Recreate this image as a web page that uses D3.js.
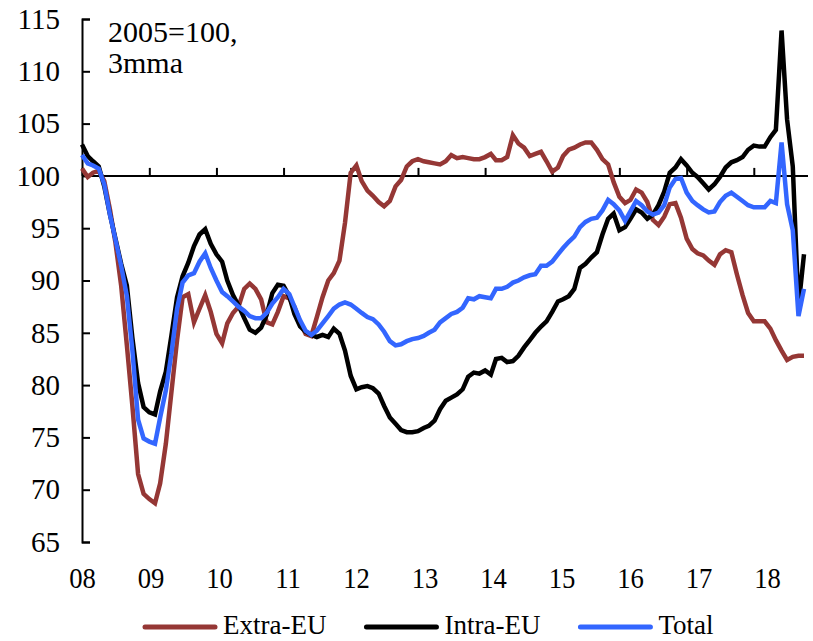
<!DOCTYPE html>
<html>
<head>
<meta charset="utf-8">
<script src="https://cdn.jsdelivr.net/npm/d3@7"></script>
<style>
  body { margin: 0; background: #fff; }
  text { font-family: "Liberation Serif", "Times New Roman", "DejaVu Serif", serif; fill: #000; }
</style>
</head>
<body>
<div id="chart"></div>
<script>
// 1: DATA (monthly, Jan 2008 - Oct 2018, 2005=100, 3mma)
const startMonth = new Date(2008, 0, 1);
const endMonth = new Date(2018, 9, 1);
const months = d3.timeMonth.range(startMonth, d3.timeMonth.offset(endMonth, 1));

const extraEU = [
  100.7, 99.9, 100.3, 100.5, 99.5, 96.8, 93.6, 89.5, 83.8, 78.0, 71.5, 69.6,
  69.1, 68.7, 70.6, 74.4, 79.3, 84.3, 88.4, 88.7, 86.0, 87.3, 88.6, 87.0,
  84.9, 84.0, 85.9, 86.9, 87.5, 89.2, 89.7, 89.2, 88.2, 86.0, 85.8, 87.0,
  88.5, 88.3, 87.5, 86.0, 84.9, 84.7, 86.5, 88.4, 90.0, 90.7, 91.9, 95.5,
  100.3, 101.0, 99.5, 98.6, 98.1, 97.5, 97.1, 97.6, 99.0, 99.6, 100.9, 101.4,
  101.6, 101.4, 101.3, 101.2, 101.1, 101.4, 102.0, 101.7, 101.8, 101.7, 101.6, 101.6,
  101.8, 102.1, 101.5, 101.5, 101.8, 103.9, 103.1, 102.7, 101.9, 102.1, 102.3, 101.4,
  100.4, 100.8, 101.9, 102.5, 102.7, 103.0, 103.2, 103.2, 102.5, 101.6, 101.1, 99.4,
  98.0, 97.4, 97.7, 98.7, 98.4, 97.5, 95.8, 95.3, 96.1, 97.3, 97.4, 96.0,
  94.0, 93.0, 92.6, 92.4, 91.9, 91.5, 92.5, 92.9, 92.7, 90.6, 88.6, 86.9,
  86.1, 86.1, 86.1, 85.4, 84.3, 83.3, 82.4, 82.7, 82.8, 82.8
];

const intraEU = [
  103.0, 101.9, 101.4, 100.9, 99.0, 96.3, 94.0, 91.6, 89.5, 84.5, 80.2, 77.9,
  77.4, 77.2, 79.4, 81.3, 84.7, 88.4, 90.4, 91.7, 93.3, 94.4, 94.9, 93.5,
  92.5, 91.8, 90.0, 88.6, 87.6, 86.4, 85.3, 85.0, 85.5, 86.7, 88.8, 89.6,
  89.5, 88.5, 86.8, 85.6, 85.1, 84.8, 84.6, 84.8, 84.6, 85.4, 84.9, 83.3,
  80.9, 79.6, 79.8, 79.9, 79.7, 79.2, 78.0, 76.9, 76.3, 75.7, 75.5, 75.5,
  75.6, 75.9, 76.1, 76.6, 77.7, 78.5, 78.8, 79.1, 79.6, 80.8, 81.2, 81.1,
  81.4, 81.0, 82.5, 82.6, 82.2, 82.3, 82.8, 83.6, 84.3, 85.0, 85.6, 86.1,
  87.0, 88.0, 88.2, 88.5, 89.2, 91.2, 91.6, 92.2, 92.7, 94.4, 95.9, 96.4,
  94.8, 95.1, 95.9, 96.8, 96.5, 95.9, 96.3, 97.2, 98.5, 100.3, 100.8, 101.6,
  101.0, 100.3, 99.9, 99.3, 98.7, 99.2, 99.9, 100.8, 101.3, 101.5, 101.8, 102.5,
  102.9, 102.8, 102.8, 103.7, 104.4, 113.9, 105.4, 100.9, 87.5, 92.5
];

const total = [
  102.0, 101.2, 101.0, 100.7, 99.2, 96.3, 93.9, 91.4, 88.5, 83.3, 76.7, 74.9,
  74.6, 74.4, 76.9, 79.5, 83.0, 87.3, 89.8, 90.5, 90.7, 91.8, 92.6, 91.2,
  90.0, 88.9, 88.5, 88.0, 87.5, 87.1, 86.6, 86.4, 86.4, 86.9, 87.8, 88.4,
  89.2, 88.7, 87.5, 86.2, 85.2, 84.8, 85.2, 85.9, 86.6, 87.3, 87.7, 87.9,
  87.7, 87.3, 86.9, 86.5, 86.3, 85.8, 85.1, 84.2, 83.8, 83.9, 84.2, 84.4,
  84.5, 84.7, 85.0, 85.3, 86.0, 86.4, 86.8, 87.0, 87.4, 88.3, 88.2, 88.5,
  88.4, 88.3, 89.2, 89.2, 89.4, 89.8, 90.0, 90.3, 90.5, 90.6, 91.4, 91.4,
  91.8, 92.5, 93.1, 93.7, 94.2, 95.1, 95.6, 95.9, 96.0, 96.7, 97.7, 97.3,
  96.7, 95.7, 96.6, 97.6, 97.2, 96.6, 96.3, 96.5, 97.2, 98.9, 99.7, 99.8,
  98.4, 97.6, 97.2, 96.8, 96.5, 96.6, 97.5, 98.1, 98.4, 98.0, 97.6, 97.2,
  97.0, 97.0, 97.0, 97.6, 97.4, 103.2, 97.3, 94.8, 86.6, 89.2
];

const seriesNames = ["Extra-EU", "Intra-EU", "Total"];
const seriesColors = ["#953735", "#000000", "#3366ff"];
const seriesValues = [extraEU, intraEU, total];

const yTicks = [65, 70, 75, 80, 85, 90, 95, 100, 105, 110, 115];
const yearTicks = d3.range(2008, 2019).map(y => new Date(y, 0, 1));
const yearLabels = ["08", "09", "10", "11", "12", "13", "14", "15", "16", "17", "18"];
const noteLines = ["2005=100,", "3mma"];

// 2: SVG
const W = 813, H = 641;
const plotLeft = 82, plotRight = 808, plotTop = 19, plotBottom = 542;

const svg = d3.select("#chart")
  .append("svg")
  .attr("width", W)
  .attr("height", H)
  .attr("font-family", "Liberation Serif, Times New Roman, serif");

// 3: SCALES
const x = d3.scaleTime()
  .domain([startMonth, endMonth])
  .range([plotLeft, 804]);

const y = d3.scaleLinear()
  .domain([65, 115])
  .range([plotBottom, plotTop]);

// labels sit a little wider than the ticks in the original
const xLabel = d3.scalePoint()
  .domain(yearLabels)
  .range([plotLeft, 767]);

// 4: AXES
// y axis, ticks pointing into the plot, labels on the left
svg.append("g")
  .attr("transform", `translate(${plotLeft},0)`)
  .call(d3.axisLeft(y).tickValues(yTicks).tickSize(-8).tickSizeOuter(-8).tickPadding(22))
  .call(g => g.attr("font-family", null))
  .call(g => g.selectAll("path, line").attr("stroke", "#000").attr("stroke-width", 2))
  .call(g => g.selectAll("text").style("font-size", "29px"));

// year axis runs along the 100 line
svg.append("line")
  .attr("x1", plotLeft)
  .attr("x2", plotRight)
  .attr("y1", y(100))
  .attr("y2", y(100))
  .attr("stroke", "#000")
  .attr("stroke-width", 2);

svg.append("g")
  .attr("transform", `translate(0,${y(100)})`)
  .call(d3.axisTop(x).tickValues(yearTicks).tickSize(8).tickFormat(""))
  .call(g => g.select(".domain").remove())
  .call(g => g.selectAll("line").attr("stroke", "#000").attr("stroke-width", 2));

// year labels at the bottom
svg.append("g")
  .attr("transform", "translate(0,588)")
  .call(d3.axisBottom(xLabel).tickSize(0))
  .call(g => g.attr("font-family", null))
  .call(g => g.select(".domain").remove())
  .call(g => g.selectAll("text")
    .attr("y", 0)
    .attr("dy", 0)
    .attr("transform", "scale(0.92,1)")
    .style("font-size", "29px"));

// 5: LINES
const line = d3.line()
  .x((d, i) => x(months[i]))
  .y(d => y(d));

svg.append("g")
  .selectAll("path")
  .data(seriesValues)
  .join("path")
  .attr("d", d => line(d))
  .attr("fill", "none")
  .attr("stroke", (d, i) => seriesColors[i])
  .attr("stroke-width", 4.5);

// 6: NOTE
svg.append("g")
  .selectAll("text")
  .data(noteLines)
  .join("text")
  .attr("x", 108)
  .attr("y", (d, i) => 42 + i * 31)
  .style("font-size", "30px")
  .text(d => d);

// 7: LEGEND
const legend = svg.append("g").attr("transform", "translate(0,627)");
let lx = 145;
seriesNames.forEach((name, i) => {
  legend.append("line")
    .attr("x1", lx).attr("x2", lx + 70)
    .attr("y1", 0).attr("y2", 0)
    .attr("stroke", seriesColors[i])
    .attr("stroke-width", 5)
    .attr("stroke-linecap", "round");
  const t = legend.append("text")
    .attr("x", lx + 78)
    .attr("y", 7)
    .style("font-size", "27px")
    .text(name);
  lx += 78 + t.node().getComputedTextLength() + 40;
});
</script>
</body>
</html>
